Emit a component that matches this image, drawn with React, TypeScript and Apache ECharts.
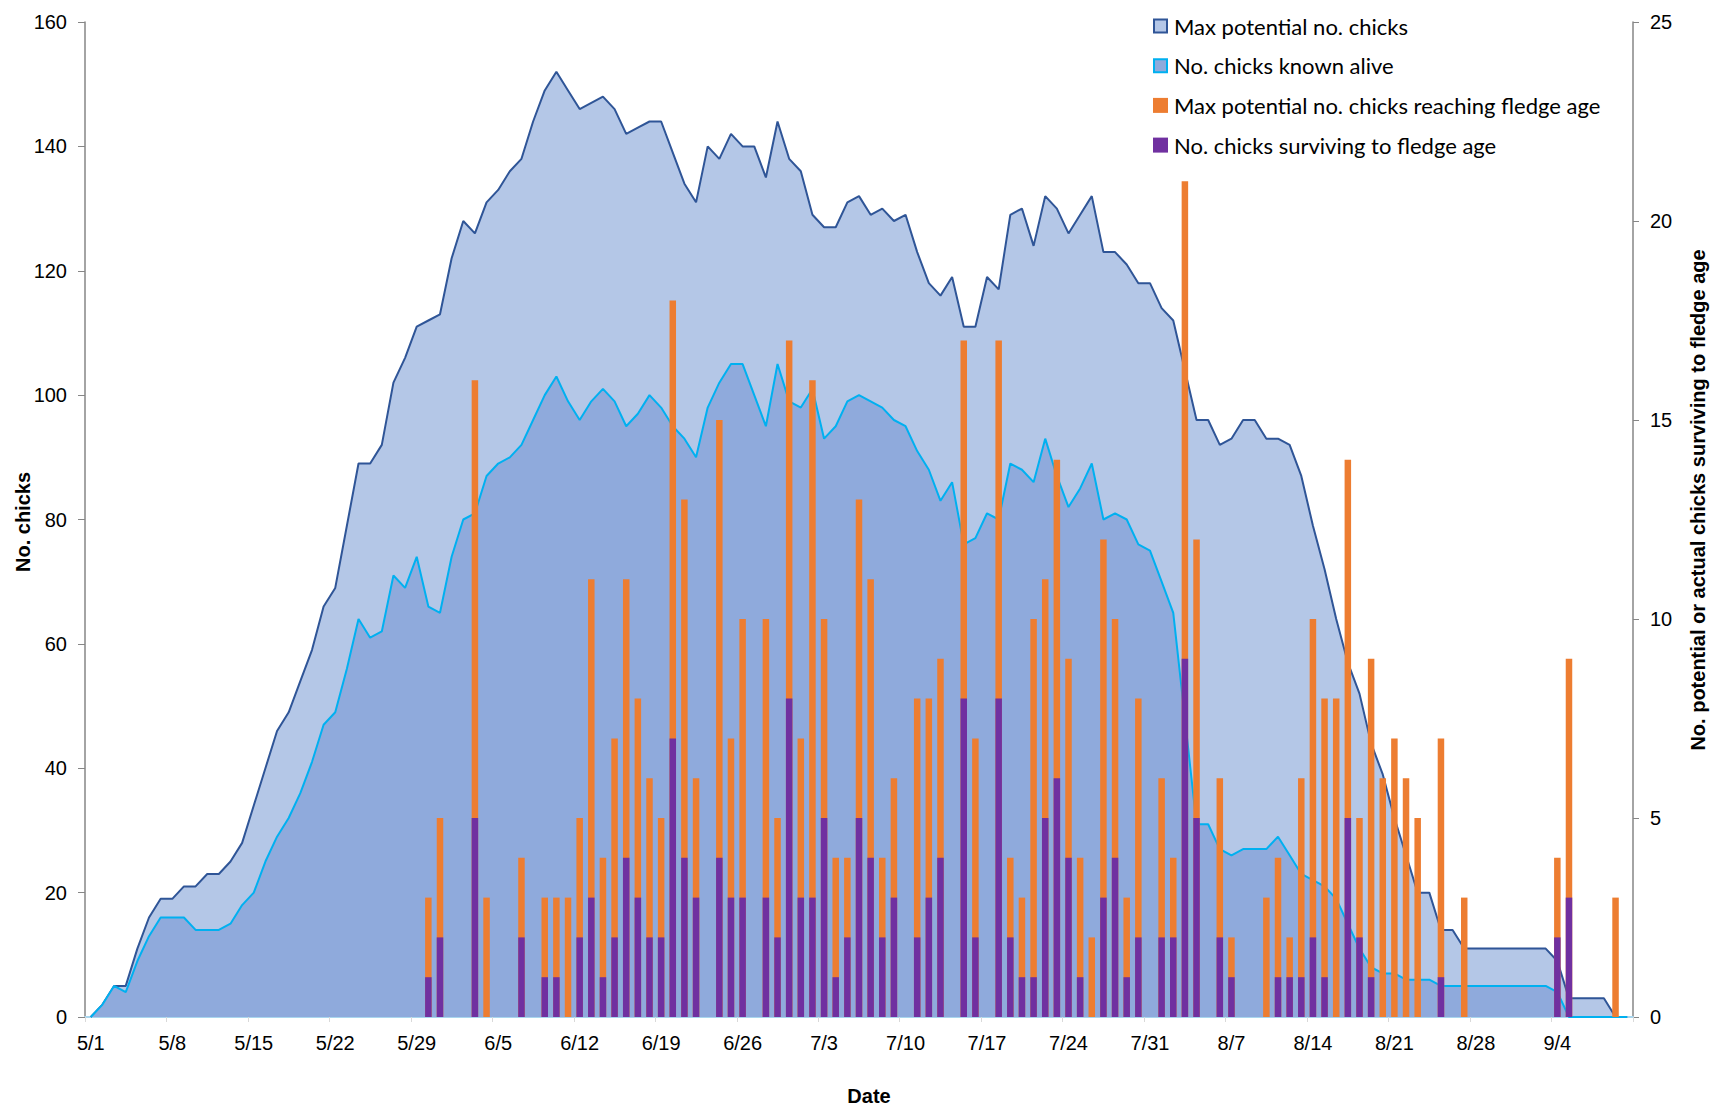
import React, { useEffect, useRef } from "react";
import * as echarts from "echarts";

// ---- categories: daily dates from 5/1 to 9/10 ----
const MONTHS = [5, 6, 7, 8, 9];
const MONTH_DAYS = [31, 30, 31, 31, 10];
const dates: string[] = [];
MONTHS.forEach((m, k) => {
  for (let d = 1; d <= MONTH_DAYS[k]; d++) dates.push(`${m}/${d}`);
});

// ---- left axis series (No. chicks) ----
const maxPotential = [
  0, 2, 5, 5, 11, 16, 19, 19, 21, 21,
  23, 23, 25, 28, 34, 40, 46, 49, 54, 59,
  66, 69, 79, 89, 89, 92, 102, 106, 111, 112,
  113, 122, 128, 126, 131, 133, 136, 138, 144, 149,
  152, 149, 146, 147, 148, 146, 142, 143, 144, 144,
  139, 134, 131, 140, 138, 142, 140, 140, 135, 144,
  138, 136, 129, 127, 127, 131, 132, 129, 130, 128,
  129, 123, 118, 116, 119, 111, 111, 119, 117, 129,
  130, 124, 132, 130, 126, 129, 132, 123, 123, 121,
  118, 118, 114, 112, 104, 96, 96, 92, 93, 96,
  96, 93, 93, 92, 87, 79, 72, 64, 57, 52,
  44, 39, 32, 26, 20, 20, 14, 14, 11, 11,
  11, 11, 11, 11, 11, 11, 9, 3, 3, 3,
  3, 0, 0,
];

const knownAlive = [
  0, 2, 5, 4, 9, 13, 16, 16, 16, 14,
  14, 14, 15, 18, 20, 25, 29, 32, 36, 41,
  47, 49, 56, 64, 61, 62, 71, 69, 74, 66,
  65, 74, 80, 81, 87, 89, 90, 92, 96, 100,
  103, 99, 96, 99, 101, 99, 95, 97, 100, 98,
  95, 93, 90, 98, 102, 105, 105, 100, 95, 105,
  99, 98, 101, 93, 95, 99, 100, 99, 98, 96,
  95, 91, 88, 83, 86, 76, 77, 81, 80, 89,
  88, 86, 93, 87, 82, 85, 89, 80, 81, 80,
  76, 75, 70, 65, 48, 31, 31, 27, 26, 27,
  27, 27, 29, 26, 23, 22, 21, 19, 15, 11,
  8, 7, 7, 6, 6, 6, 5, 5, 5, 5,
  5, 5, 5, 5, 5, 5, 4, 0, 0, 0,
  0, 0, 0,
];

// ---- right axis series (No. potential or actual chicks reaching fledge age) ----
const maxFledge = [
  0, 0, 0, 0, 0, 0, 0, 0, 0, 0,
  0, 0, 0, 0, 0, 0, 0, 0, 0, 0,
  0, 0, 0, 0, 0, 0, 0, 0, 0, 3,
  5, 0, 0, 16, 3, 0, 0, 4, 0, 3,
  3, 3, 5, 11, 4, 7, 11, 8, 6, 5,
  18, 13, 6, 0, 15, 7, 10, 0, 10, 5,
  17, 7, 16, 10, 4, 4, 13, 11, 4, 6,
  0, 8, 8, 9, 0, 17, 7, 0, 17, 4,
  3, 10, 11, 14, 9, 4, 2, 12, 10, 3,
  8, 0, 6, 4, 21, 12, 0, 6, 2, 0,
  0, 3, 4, 2, 6, 10, 8, 8, 14, 5,
  9, 6, 7, 6, 5, 0, 7, 0, 3, 0,
  0, 0, 0, 0, 0, 0, 4, 9, 0, 0,
  0, 3, 0,
];

const survivedFledge = [
  0, 0, 0, 0, 0, 0, 0, 0, 0, 0,
  0, 0, 0, 0, 0, 0, 0, 0, 0, 0,
  0, 0, 0, 0, 0, 0, 0, 0, 0, 1,
  2, 0, 0, 5, 0, 0, 0, 2, 0, 1,
  1, 0, 2, 3, 1, 2, 4, 3, 2, 2,
  7, 4, 3, 0, 4, 3, 3, 0, 3, 2,
  8, 3, 3, 5, 1, 2, 5, 4, 2, 3,
  0, 2, 3, 4, 0, 8, 2, 0, 8, 2,
  1, 1, 5, 6, 4, 1, 0, 3, 4, 1,
  2, 0, 2, 2, 9, 5, 0, 2, 1, 0,
  0, 0, 1, 1, 1, 2, 1, 0, 5, 2,
  1, 0, 0, 0, 0, 0, 1, 0, 0, 0,
  0, 0, 0, 0, 0, 0, 2, 3, 0, 0,
  0, 0, 0,
];

const leftTicks = { min: 0, max: 160, interval: 20 };
const rightTicks = { min: 0, max: 25, interval: 5 };

const legendNames = [
  "Max potential no. chicks",
  "No. chicks known alive",
  "Max potential no. chicks reaching fledge age",
  "No. chicks surviving to fledge age",
];

const C = {
  maxFill: "#B4C7E7",
  maxLine: "#2F5597",
  aliveFill: "#8FAADC",
  aliveLine: "#00B0F0",
  orange: "#ED7D31",
  purple: "#7030A0",
  axis: "#868686",
};

const AX_FONT = "Liberation Sans, Arial, sans-serif";

export default function App() {
  const ref = useRef<HTMLDivElement>(null);

  useEffect(() => {
    if (!ref.current) return;
    const chart = echarts.init(ref.current, undefined, { renderer: "svg" });

    const legendFills = [
      { fill: C.maxFill, stroke: C.maxLine, lw: 2 },
      { fill: C.aliveFill, stroke: C.aliveLine, lw: 2 },
      { fill: C.orange, stroke: C.orange, lw: 0 },
      { fill: C.purple, stroke: C.purple, lw: 0 },
    ];
    const legendGraphics: any[] = [];
    legendNames.forEach((name, k) => {
      const cy = 26 + 39.7 * k;
      const lw = legendFills[k].lw;
      legendGraphics.push({
        type: "rect",
        shape: lw
          ? { x: 1154, y: cy - 6.5, width: 13, height: 13 }
          : { x: 1153, y: cy - 7.5, width: 15, height: 15 },
        style: {
          fill: legendFills[k].fill,
          stroke: lw ? legendFills[k].stroke : null,
          lineWidth: lw,
        },
        z: 100,
      });
      legendGraphics.push({
        type: "text",
        x: 1174,
        y: cy,
        style: {
          text: name,
          font: "22px Lato, 'Open Sans', sans-serif",
          fill: "#000",
          verticalAlign: "middle",
          align: "left",
        },
        z: 100,
      });
    });

    const option: any = {
      animation: false,
      backgroundColor: "#fff",
      grid: { left: 85, right: 81, top: 22, bottom: 91, containLabel: false },
      xAxis: {
        type: "category",
        data: dates,
        boundaryGap: true,
        axisLine: { show: true, lineStyle: { color: "#a9d6ee", width: 2 } },
        axisTick: {
          show: true,
          interval: 6,
          length: 5,
          lineStyle: { color: "#d9d9d9", width: 1 },
        },
        axisLabel: {
          interval: 6,
          margin: 16,
          color: "#000",
          fontSize: 20,
          fontFamily: AX_FONT,
        },
        splitLine: { show: false },
      },
      yAxis: [
        {
          type: "value",
          ...leftTicks,
          position: "left",
          axisLine: { show: true, lineStyle: { color: C.axis, width: 1.5 } },
          axisTick: { show: true, length: 7, lineStyle: { color: C.axis } },
          axisLabel: {
            margin: 18,
            color: "#000",
            fontSize: 20,
            fontFamily: AX_FONT,
          },
          splitLine: { show: false },
        },
        {
          type: "value",
          ...rightTicks,
          position: "right",
          axisLine: { show: true, lineStyle: { color: C.axis, width: 1.5 } },
          axisTick: { show: true, length: 6, lineStyle: { color: C.axis } },
          axisLabel: {
            margin: 17,
            color: "#000",
            fontSize: 20,
            fontFamily: AX_FONT,
          },
          splitLine: { show: false },
        },
      ],
      series: [
        {
          name: legendNames[0],
          type: "line",
          yAxisIndex: 0,
          data: maxPotential,
          symbol: "none",
          lineStyle: { color: C.maxLine, width: 2 },
          areaStyle: { color: C.maxFill, opacity: 1 },
          itemStyle: { color: C.maxFill },
          z: 1,
        },
        {
          name: legendNames[1],
          type: "line",
          yAxisIndex: 0,
          data: knownAlive,
          symbol: "none",
          lineStyle: { color: C.aliveLine, width: 2 },
          areaStyle: { color: C.aliveFill, opacity: 1 },
          itemStyle: { color: C.aliveFill },
          z: 2,
        },
        {
          name: legendNames[2],
          type: "bar",
          yAxisIndex: 1,
          data: maxFledge,
          barWidth: 6.5,
          barGap: "-100%",
          itemStyle: { color: C.orange },
          z: 3,
        },
        {
          name: legendNames[3],
          type: "bar",
          yAxisIndex: 1,
          data: survivedFledge,
          barWidth: 6.5,
          barGap: "-100%",
          itemStyle: { color: C.purple },
          z: 4,
        },
      ],
      graphic: [
        {
          type: "text",
          x: 23,
          y: 522,
          rotation: Math.PI / 2,
          style: {
            text: "No. chicks",
            font: `bold 20px ${AX_FONT}`,
            fill: "#000",
            align: "center",
            verticalAlign: "middle",
          },
        },
        {
          type: "text",
          x: 1698,
          y: 500,
          rotation: Math.PI / 2,
          style: {
            text: "No. potential or actual chicks surviving to fledge age",
            font: `bold 20px ${AX_FONT}`,
            fill: "#000",
            align: "center",
            verticalAlign: "middle",
          },
        },
        {
          type: "text",
          x: 869,
          y: 1096,
          style: {
            text: "Date",
            font: `bold 20px ${AX_FONT}`,
            fill: "#000",
            align: "center",
            verticalAlign: "middle",
          },
        },
        ...legendGraphics,
      ],
    };

    chart.setOption(option);
    return () => chart.dispose();
  }, []);

  return (
    <div
      ref={ref}
      style={{ position: "fixed", left: 0, top: 0, width: 1714, height: 1108 }}
    />
  );
}
